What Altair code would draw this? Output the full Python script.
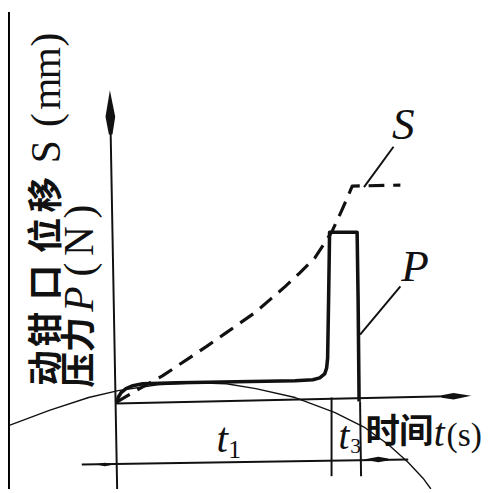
import altair as alt
import pandas as pd

# ---- data (page-pixel coordinate frame of the schematic) ----
# P curve (pressure), solid
p_x = [119, 120, 123, 128, 135, 145, 180, 240, 300, 318, 325, 330, 332, 333, 334, 335, 363, 364, 365]
p_y = [406, 400, 395, 391, 388, 386, 385, 384, 383, 382, 380, 376, 370, 360, 300, 232, 232, 300, 404]
# S curve (jaw displacement), dashed
s_x = [118, 140, 165, 210, 230, 260, 275, 290, 305, 320, 337, 345, 353, 358, 407]
s_y = [405, 392, 378, 348, 334, 313, 300, 287, 273, 258, 232, 215, 197, 185, 184]
# thin overlay arc
arc_x = [10, 50, 90, 120, 160, 200, 230, 260, 300, 340, 370, 395, 415, 430, 438]
arc_y = [428, 413, 400, 393, 387, 385, 386, 391, 400, 415, 430, 448, 466, 482, 493]

# straight guide lines: (name, x0, y0, x1, y1)
segments = [
    ("yaxis", 112, 110, 119, 493),
    ("xaxis", 118, 406, 466, 398.5),
    ("dim", 83, 468, 415, 463),
    ("ext1", 337, 400, 337, 480),
    ("ext3", 366, 404, 367, 480),
    ("sleader", 370, 186, 400, 145),
    ("pleader", 366, 336, 407, 287),
]

# vertical axis title, read glyph by glyph (text, centre along the column)
col1_text = ["动", "钳", "口", "位", "移", "S", "(", "m", "m", ")"]
col1_pos = [370, 331, 283, 235, 194, 150, 118, 91, 60, 36]
col2_text = ["压", "力", "P", "(", "N", ")"]
col2_pos = [372, 336, 300, 270, 241, 211]

XS = alt.Scale(domain=[8, 491], nice=False, zero=False)
YS = alt.Scale(domain=[8, 493], nice=False, zero=False, reverse=True)


def enc_xy():
    return dict(
        x=alt.X("x:Q", scale=XS, axis=None),
        y=alt.Y("y:Q", scale=YS, axis=None),
    )


def curve(xs, ys, width, dash=None):
    df = pd.DataFrame({"x": xs, "y": ys, "o": range(len(xs))})
    kw = dict(color="#111", strokeWidth=width, strokeCap="butt", strokeJoin="round", clip=True)
    if dash:
        kw["strokeDash"] = dash
    return alt.Chart(df).mark_line(**kw).encode(order="o:Q", **enc_xy())


layers = []

# left black scan border
border = pd.DataFrame({"x": [8], "x2": [10], "y": [8], "y2": [493]})
layers.append(
    alt.Chart(border).mark_rect(color="black").encode(
        x=alt.X("x:Q", scale=XS, axis=None), x2="x2:Q",
        y=alt.Y("y:Q", scale=YS, axis=None), y2="y2:Q",
    )
)

seg_rows = []
for name, x0, y0, x1, y1 in segments:
    seg_rows.append({"name": name, "x": x0, "y": y0, "o": 0})
    seg_rows.append({"name": name, "x": x1, "y": y1, "o": 1})
seg_df = pd.DataFrame(seg_rows)
layers.append(
    alt.Chart(seg_df).mark_line(color="#111", strokeWidth=2, strokeCap="butt").encode(
        detail="name:N", order="o:Q", **enc_xy()
    )
)

layers.append(curve(arc_x, arc_y, 1.4))
layers.append(curve(s_x, s_y, 3.2, dash=[16, 9]))
layers.append(curve(p_x, p_y, 3.6))

# arrowheads
arrow_shape = "M0,-1L0.22,0.2L0.08,1L-0.08,1L-0.22,0.2Z"
arrows = pd.DataFrame({
    "x": [112, 464, 108, 382],
    "y": [110, 398.6, 468, 463],
    "ang": [359, 88.6, 90, 270],
    "sz": [2025, 900, 256, 625],
})
layers.append(
    alt.Chart(arrows).mark_point(shape=arrow_shape, filled=True, color="#111", opacity=1, strokeWidth=0).encode(
        angle=alt.Angle("ang:Q", scale=None),
        size=alt.Size("sz:Q", scale=None, legend=None),
        **enc_xy()
    )
)

CJK = "Noto Sans CJK SC"
SERIF = "Liberation Serif"


def is_cjk(ch):
    return ord(ch) > 0x2E80


def label(text, x, y, size, font, angle=0, align="center", baseline="middle", italic=False, weight="normal"):
    df = pd.DataFrame({"x": [x], "y": [y], "t": [text]})
    kw = dict(font=font, fontSize=size, color="#111", align=align, baseline=baseline, fontWeight=weight)
    if angle:
        kw["angle"] = angle
    if italic:
        kw["fontStyle"] = "italic"
    return alt.Chart(df).mark_text(**kw).encode(text="t:N", **enc_xy())


def column(chars, positions, xc):
    for ch, pos in zip(chars, positions):
        if is_cjk(ch):
            layers.append(label(ch, xc, pos, 36, CJK, angle=270, weight="bold"))
        else:
            layers.append(label(ch, xc, pos, 42, SERIF, angle=270, italic=(ch == "P")))


column(col1_text, col1_pos, 48)
column(col2_text, col2_pos, 81)

# curve labels
layers.append(label("S", 410, 137, 46, SERIF, baseline="alphabetic", italic=True))
layers.append(label("P", 422, 282, 46, SERIF, baseline="alphabetic", italic=True))

# time labels
layers.append(label("t", 220, 455, 42, SERIF, align="left", baseline="alphabetic", italic=True))
layers.append(label("1", 232, 461, 26, SERIF, align="left", baseline="alphabetic"))
layers.append(label("t", 344, 452, 40, SERIF, align="left", baseline="alphabetic", italic=True))
layers.append(label("3", 356, 456, 22, SERIF, align="left", baseline="alphabetic"))
layers.append(label("时", 389, 435, 35, CJK, weight="bold"))
layers.append(label("间", 423, 435, 35, CJK, weight="bold"))
layers.append(label("t", 441, 449, 40, SERIF, align="left", baseline="alphabetic", italic=True))
layers.append(label("(s)", 454, 449, 34, SERIF, align="left", baseline="alphabetic"))

chart = alt.layer(*layers).properties(
    width=483, height=485, autosize=alt.AutoSizeParams(type="none"), padding=0, background="white"
).configure_view(stroke=None)

chart.save("out.html", embed_options={"renderer": "svg", "actions": False})
